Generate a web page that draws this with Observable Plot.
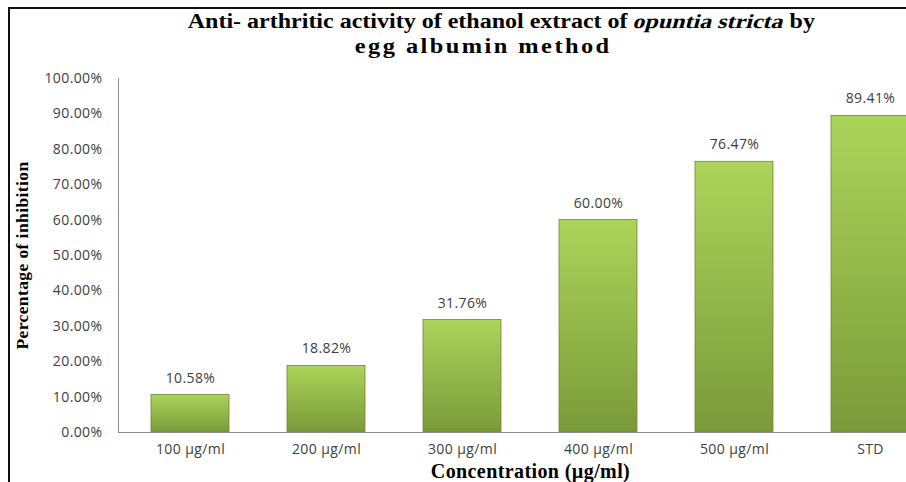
<!DOCTYPE html>
<html>
<head>
<meta charset="utf-8">
<script src="https://cdn.jsdelivr.net/npm/d3@7"></script>
<script src="https://cdn.jsdelivr.net/npm/@observablehq/plot@0.6"></script>
<style>
  html, body { margin: 0; padding: 0; background: #fff; overflow: hidden; }
  #wrap { position: relative; width: 906px; height: 482px; overflow: hidden; }
  #border { position: absolute; left: 8px; top: 7px; width: 960px; height: 520px;
            border-left: 2px solid #111; border-top: 2px solid #111; box-sizing: border-box; pointer-events: none; }
  #title { height: 62px; font-family: "Liberation Serif", "Times New Roman", serif; font-weight: bold;
           font-size: 20px; color: #000; line-height: 25px; padding-top: 9px; box-sizing: border-box; }
  #title .l1 { width: 906px; text-align: center; padding-left: 96px; box-sizing: border-box; }
  #title .l2 { width: 906px; text-align: center; padding-left: 60px; box-sizing: border-box; }
  #title .l1 > span { display: inline-block; transform: scaleX(1.2); transform-origin: 50% 50%; white-space: nowrap; }
  #title .l2 > span { display: inline-block; transform: scaleX(1.22); letter-spacing: 2px; transform-origin: 50% 50%; white-space: nowrap; }
  #title .it { display: inline-block; font-family: "Liberation Serif", serif; font-style: normal; transform: skewX(-13deg); }
  svg { display: block; }
</style>
</head>
<body>
<div id="wrap">
  <div id="title">
    <div class="l1"><span>Anti- arthritic activity of ethanol extract of <span class="it">opuntia stricta</span> by</span></div>
    <div class="l2"><span>egg albumin method</span></div>
  </div>
  <div id="chart"></div>
  <div id="border"></div>
</div>
<script>
const categories = ["100 µg/ml", "200 µg/ml", "300 µg/ml", "400 µg/ml", "500 µg/ml", "STD"];
const values = [10.58, 18.82, 31.76, 60.00, 76.47, 89.41];
const yTicks = [0, 10, 20, 30, 40, 50, 60, 70, 80, 90, 100];
const xTitle = "Concentration (µg/ml)";
const yTitle = "Percentage of inhibition";

const data = categories.map((c, i) => ({cat: c, val: values[i]}));
const pct = d => d.toFixed(2) + "%";

const defs = () => {
  const svg = d3.create("svg:defs");
  const g = svg.append("linearGradient").attr("id", "barGrad").attr("x1", 0).attr("y1", 0).attr("x2", 0).attr("y2", 1);
  g.append("stop").attr("offset", "0%").attr("stop-color", "#acd45a");
  g.append("stop").attr("offset", "100%").attr("stop-color", "#7a9a3a");
  return svg.node();
};

const yAxisLine = (index, scales, values, dims) => {
  const g = d3.create("svg:g");
  g.append("line")
    .attr("x1", dims.marginLeft + 0.5).attr("x2", dims.marginLeft + 0.5)
    .attr("y1", scales.y(100)).attr("y2", scales.y(0))
    .attr("stroke", "#8c8c8c").attr("stroke-width", 1);
  return g.node();
};

const labelFont = {fontFamily: "Open Sans", fontSize: 14};

const chart = Plot.plot({
  width: 906,
  height: 420,
  marginTop: 16,
  marginBottom: 50,
  marginLeft: 118,
  marginRight: 0,
  style: {fontFamily: "Open Sans", fontSize: "14px", color: "#404040", background: "transparent", letterSpacing: "0.4px"},
  x: {domain: categories, range: [118, 942], paddingInner: 0.423, paddingOuter: 0.22, label: null},
  y: {domain: [0, 100], label: null},
  marks: [
    defs,
    Plot.barY(data, {x: "cat", y: "val", fill: "url(#barGrad)", stroke: "#6c8a30", strokeWidth: 0.8}),
    Plot.text(data, {x: "cat", y: "val", text: d => pct(d.val), dy: -17, fill: "#404040", ...labelFont}),
    Plot.ruleY([0], {stroke: "#8c8c8c"}),
    yAxisLine,
    Plot.axisX({tickSize: 0, tickPadding: 12, label: null, fill: "#404040"}),
    Plot.axisY({ticks: yTicks, tickSize: 0, tickPadding: 16, tickFormat: pct, label: null, fill: "#404040"}),
    Plot.text([xTitle], {frameAnchor: "bottom", dx: 18, dy: 45, fontFamily: "Liberation Serif", fontWeight: "bold", fontSize: 20, fill: "#000", style: "letter-spacing:0.5px"}),
    Plot.text([yTitle], {frameAnchor: "left", textAnchor: "middle", rotate: -90, dx: -96, fontFamily: "Liberation Serif", fontWeight: "bold", fontSize: 17.5, fill: "#000"})
  ]
});
document.getElementById("chart").appendChild(chart);
</script>
</body>
</html>
